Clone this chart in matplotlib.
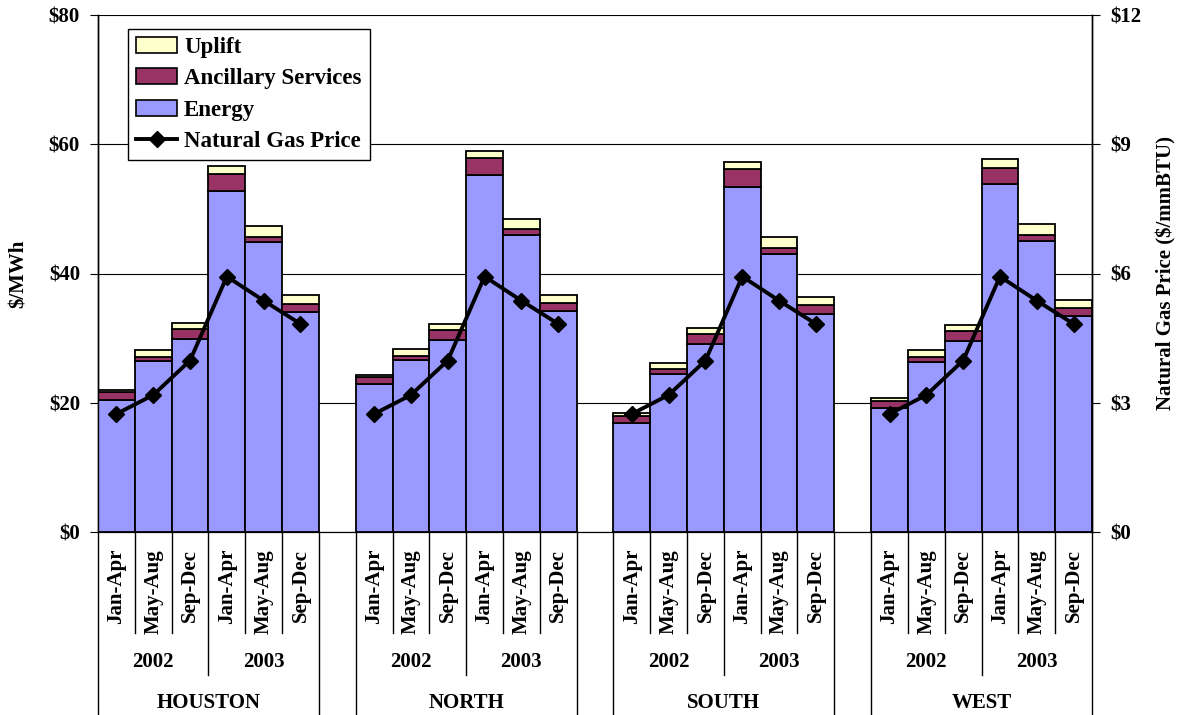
import matplotlib
matplotlib.use("Agg")
import matplotlib.pyplot as plt
import matplotlib.transforms as mtransforms
from matplotlib.patches import Patch
from matplotlib.lines import Line2D
import numpy as np

plt.rcParams["font.family"] = "Liberation Serif"
plt.rcParams["font.weight"] = "bold"
plt.rcParams["axes.labelweight"] = "bold"

regions = ["HOUSTON", "NORTH", "SOUTH", "WEST"]
years = ["2002", "2003"]
seasons = ["Jan-Apr", "May-Aug", "Sep-Dec"]

# $/MWh per region, 6 periods each (Jan-Apr 02 ... Sep-Dec 03)
energy = {
    "HOUSTON": [20.4, 26.4, 29.9, 52.7, 44.8, 34.0],
    "NORTH": [22.9, 26.6, 29.7, 55.2, 45.9, 34.2],
    "SOUTH": [16.9, 24.4, 29.1, 53.4, 43.0, 33.8],
    "WEST": [19.2, 26.3, 29.5, 53.9, 45.0, 33.4],
}
ancillary = {
    "HOUSTON": [1.2, 0.7, 1.5, 2.7, 0.9, 1.3],
    "NORTH": [1.1, 0.7, 1.5, 2.6, 1.0, 1.3],
    "SOUTH": [1.1, 0.8, 1.5, 2.8, 1.0, 1.4],
    "WEST": [1.1, 0.8, 1.6, 2.5, 0.9, 1.3],
}
uplift = {
    "HOUSTON": [0.4, 1.1, 1.0, 1.2, 1.6, 1.3],
    "NORTH": [0.3, 1.0, 1.0, 1.2, 1.6, 1.2],
    "SOUTH": [0.4, 1.0, 1.0, 1.1, 1.6, 1.2],
    "WEST": [0.4, 1.1, 1.0, 1.3, 1.7, 1.2],
}
# $/mmBTU, same for all regions
gas_price = [2.74, 3.18, 3.98, 5.93, 5.37, 4.83]

c_energy = "#9999FF"
c_anc = "#993366"
c_uplift = "#FFFFCC"

W, H = 1181, 715
fig = plt.figure(figsize=(W / 100, H / 100), dpi=100)
ax_l, ax_r, ax_b, ax_t = 98, 1092, 532, 15
ax = fig.add_axes([ax_l / W, 1 - ax_b / H, (ax_r - ax_l) / W, (ax_b - ax_t) / H])
ax2 = ax.twinx()

n_per = 6
for g, reg in enumerate(regions):
    x = np.arange(n_per) + g * (n_per + 1)
    e = np.array(energy[reg])
    a = np.array(ancillary[reg])
    u = np.array(uplift[reg])
    kw = dict(width=1.0, edgecolor="black", linewidth=1.3, zorder=3)
    ax.bar(x, e, color=c_energy, **kw)
    ax.bar(x, a, bottom=e, color=c_anc, **kw)
    ax.bar(x, u, bottom=e + a, color=c_uplift, **kw)
    ax2.plot(x, gas_price, color="black", lw=2.8, marker="D", ms=8.5, zorder=5)

ntot = len(regions) * (n_per + 1) - 1
ax.set_xlim(-0.5, ntot - 0.5)
ax.set_ylim(0, 80)
ax2.set_ylim(0, 12)
ax.set_yticks(range(0, 81, 20))
ax.set_yticklabels([f"${v}" for v in range(0, 81, 20)])
ax2.set_yticks(range(0, 13, 3))
ax2.set_yticklabels([f"${v}" for v in range(0, 13, 3)])
ax.set_xticks([])
ax.yaxis.grid(True, color="black", lw=0.8)
ax.set_axisbelow(True)
for a_ in (ax, ax2):
    a_.spines["top"].set_visible(False)
    a_.tick_params(axis="y", labelsize=15, length=6, width=0.8, pad=7)
    a_.spines["left"].set_linewidth(1.0)
    a_.spines["right"].set_linewidth(1.0)
ax.set_ylabel("$/MWh", fontsize=15, labelpad=14)
ax2.set_ylabel("Natural Gas Price ($/mmBTU)", fontsize=15, labelpad=11)

# multi-level category axis
tr = mtransforms.blended_transform_factory(ax.transData, fig.transFigure)


def fy(px):
    return 1 - px / H


def vline(xv, y0, y1):
    fig.add_artist(Line2D([xv, xv], [fy(y0), fy(y1)], transform=tr,
                          color="black", lw=1.0))


for g, reg in enumerate(regions):
    x0 = g * (n_per + 1)
    for i in range(n_per):
        xc = x0 + i
        fig.text(xc, fy(549), seasons[i % 3], transform=tr, rotation=90,
                 ha="center", va="top", fontsize=15)
        if i > 0 and i != 3:
            vline(xc - 0.5, ax_b, 633)
    vline(x0 + 2.5, ax_b, 675)
    vline(x0 - 0.5, ax_b, H)
    vline(x0 + n_per - 0.5, ax_b, H)
    for k, yr in enumerate(years):
        fig.text(x0 + 1 + 3 * k, fy(662), yr, transform=tr, ha="center",
                 va="center", fontsize=15)
    fig.text(x0 + 2.5, fy(703), reg, transform=tr, ha="center", va="center",
             fontsize=15)

handles = [
    Patch(facecolor=c_uplift, edgecolor="black", lw=1.2, label="Uplift"),
    Patch(facecolor=c_anc, edgecolor="black", lw=1.2, label="Ancillary Services"),
    Patch(facecolor=c_energy, edgecolor="black", lw=1.2, label="Energy"),
    Line2D([], [], color="black", lw=2.8, marker="D", ms=8.5, label="Natural Gas Price"),
]
leg = ax2.legend(handles=handles, loc="upper left",
                 bbox_to_anchor=((128 - ax_l) / (ax_r - ax_l), 1 - (29 - ax_t) / (ax_b - ax_t)),
                 prop={"size": 16.5, "weight": "bold"}, frameon=True, fancybox=False,
                 edgecolor="black", framealpha=1, borderaxespad=0, handlelength=1.8,
                 labelspacing=0.45, handletextpad=0.3, borderpad=0.35)
leg.get_frame().set_linewidth(1.0)

fig.savefig("out.png", dpi=100)
